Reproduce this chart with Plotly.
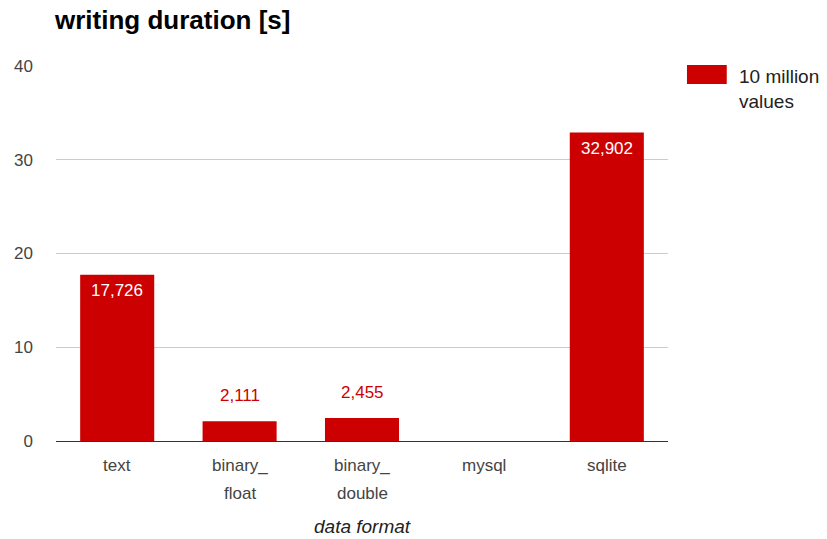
import plotly.graph_objects as go

# Data
categories = ["text", "binary_float", "binary_double", "mysql", "sqlite"]
tick_lines = [["text"], ["binary_", "float"], ["binary_", "double"], ["mysql"], ["sqlite"]]
durations = [17.726, 2.111, 2.455, None, 32.902]
series_name = "10 million<br>values"
y_ticks = [0, 10, 20, 30, 40]

BAR_COLOR = "#cc0000"
FONT = "Arial, Liberation Sans, Arimo, sans-serif"

fig = go.Figure()
fig.add_trace(go.Bar(
    x=categories,
    y=durations,
    marker=dict(color=BAR_COLOR, line=dict(width=0)),
    name=series_name,
    showlegend=False,
    hoverinfo="skip",
))

annotations = []

# Value labels: inside the bar when tall, above it in red when short
for cat, val in zip(categories, durations):
    if val is None:
        continue
    label = f"{val:.3f}".replace(".", ",")
    if val > 10:
        annotations.append(dict(
            x=cat, y=val, xref="x", yref="y", text=label, showarrow=False,
            yanchor="top", yshift=-4, font=dict(family=FONT, size=17, color="white"),
        ))
    else:
        annotations.append(dict(
            x=cat, y=val, xref="x", yref="y", text=label, showarrow=False,
            yanchor="bottom", yshift=14, font=dict(family=FONT, size=17, color=BAR_COLOR),
        ))

# Category labels, wrapped over two lines with wider line spacing
for cat, lines in zip(categories, tick_lines):
    for i, line in enumerate(lines):
        annotations.append(dict(
            x=cat, y=0, xref="x", yref="paper", text=line, showarrow=False,
            yanchor="middle", yshift=-24 - 28 * i,
            font=dict(family=FONT, size=17, color="#444"),
        ))

# Axis title
annotations.append(dict(
    x=0.5, y=0, xref="paper", yref="paper", text="<i>data format</i>", showarrow=False,
    yanchor="middle", yshift=-85, font=dict(family=FONT, size=19, color="#222"),
))

# Legend entry drawn by hand
annotations.append(dict(
    x=1.113, y=1.005, xref="paper", yref="paper", text=series_name, showarrow=False,
    xanchor="left", yanchor="top", align="left",
    font=dict(family=FONT, size=19, color="#222"),
))
shapes = [dict(
    type="rect", xref="paper", yref="paper",
    x0=1.031, x1=1.096, y0=0.952, y1=1.0027,
    fillcolor=BAR_COLOR, line=dict(width=0),
)]

fig.update_layout(
    width=827, height=539,
    margin=dict(l=56, r=159, t=66, b=98),
    paper_bgcolor="white", plot_bgcolor="white",
    font=dict(family=FONT, size=17, color="#444"),
    title=dict(
        text="<b>writing duration [s]</b>",
        x=55 / 827, xanchor="left", xref="container",
        y=1 - 20 / 539, yanchor="middle", yref="container",
        font=dict(family=FONT, size=26, color="#000"),
    ),
    bargap=0.395,
    annotations=annotations,
    shapes=shapes,
    showlegend=False,
    xaxis=dict(
        type="category",
        range=[-0.5, 4.5],
        showgrid=False, showline=False, ticks="",
        showticklabels=False,
    ),
    yaxis=dict(
        range=[0, 40],
        tickvals=y_ticks,
        showgrid=True, gridcolor="#cccccc", gridwidth=1,
        zeroline=True, zerolinecolor="#333333", zerolinewidth=1,
        showline=False, ticks="",
        ticklabelstandoff=22,
        tickfont=dict(family=FONT, size=17, color="#444"),
    ),
)

fig.write_html("out.html")
